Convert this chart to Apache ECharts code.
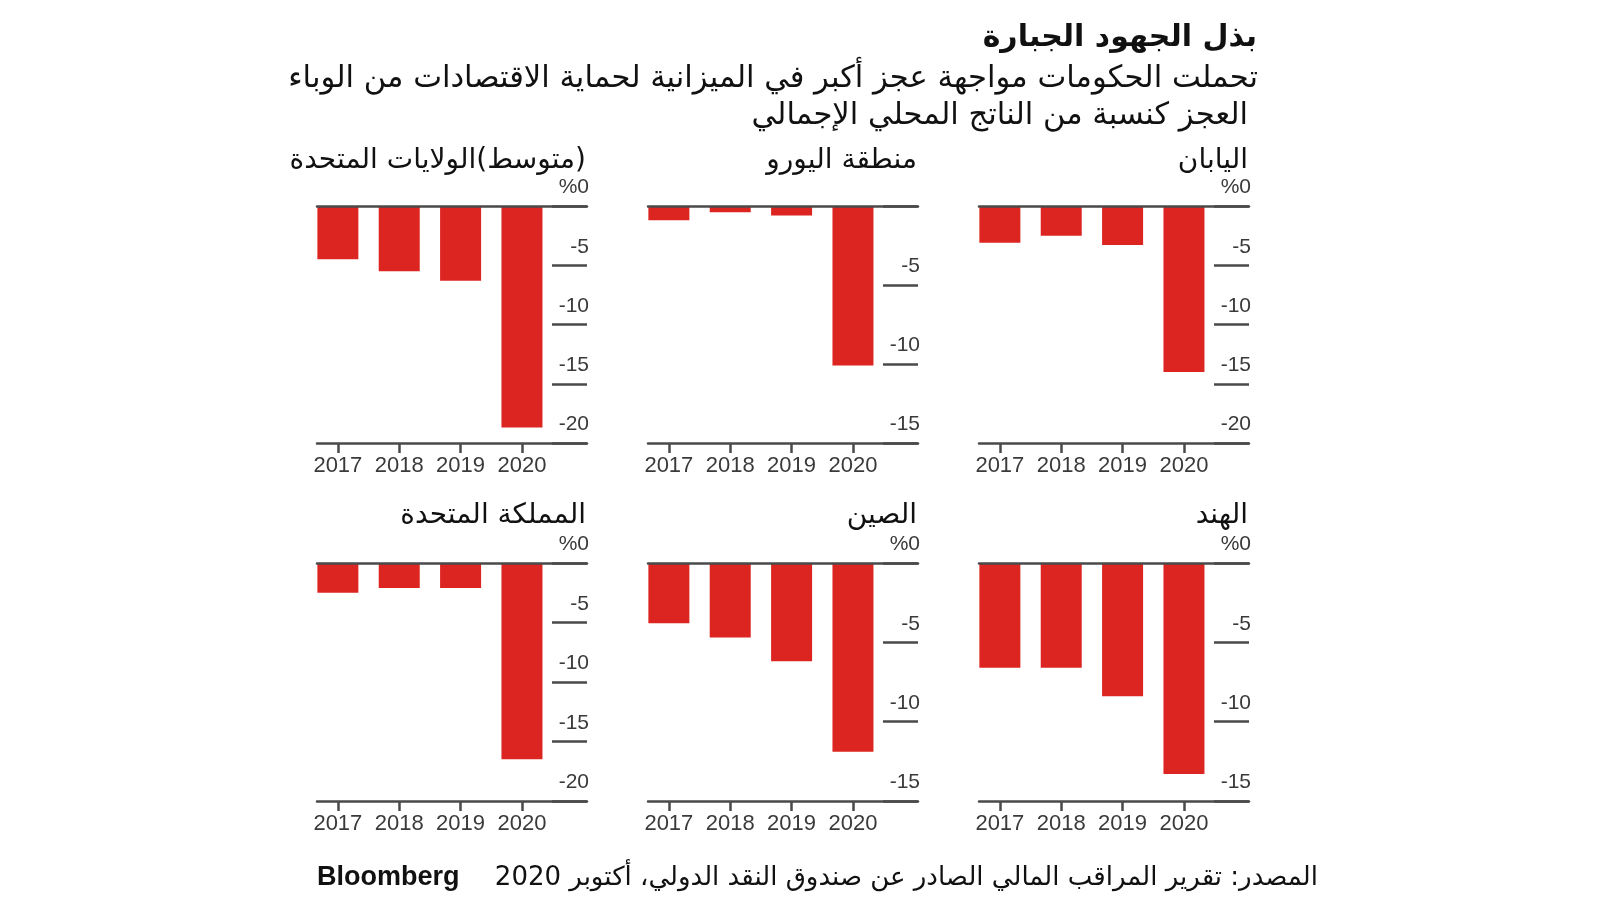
<!DOCTYPE html>
<html>
<head>
<meta charset="utf-8">
<script src="https://cdn.jsdelivr.net/npm/echarts@6/dist/echarts.min.js"></script>
<style>
html,body{margin:0;padding:0;background:#fff;}
#c{width:1600px;height:900px;}
</style>
</head>
<body>
<div id="c"></div>
<script>
// ---- data ----
var years = ['2017', '2018', '2019', '2020'];
var usValues = [-4.5, -5.5, -6.3, -18.7];
var eurozoneValues = [-0.9, -0.4, -0.6, -10.1];
var japanValues = [-3.1, -2.5, -3.3, -14.0];
var ukValues = [-2.5, -2.1, -2.1, -16.5];
var chinaValues = [-3.8, -4.7, -6.2, -11.9];
var indiaValues = [-6.6, -6.6, -8.4, -13.3];
var panelNames = ['\u200F(متوسط)الولايات المتحدة', 'منطقة اليورو', 'اليابان', 'المملكة المتحدة', 'الصين', 'الهند'];
var panelMins = [-20, -15, -20, -20, -15, -15];
var panelShowZero = [true, false, true, true, true, true];
var titleText = 'بذل الجهود الجبارة';
var subtitle1 = 'تحملت الحكومات مواجهة عجز أكبر في الميزانية لحماية الاقتصادات من الوباء';
var subtitle2 = 'العجز كنسبة من الناتج المحلي الإجمالي';
var sourceText = 'المصدر: تقرير المراقب المالي الصادر عن صندوق النقد الدولي، أكتوبر 2020';
var brandText = 'Bloomberg';
var panelValues = [usValues, eurozoneValues, japanValues, ukValues, chinaValues, indiaValues];

// ---- layout ----
var AR = "'DejaVu Sans', sans-serif";
var NUM = "'Liberation Sans', Arial, sans-serif";
var lineColor = '#4a4a4a';
var textColor = '#3a3a3a';
var barColor = '#dc2520';
var colLeft = [317, 648, 979];
var panelW = 270;
var rowTop = [206, 563];
var rowBottomY = [443, 801];

var grids = [], xAxes = [], yAxes = [], series = [];
var titles = [
  {text: titleText, right: 1600 - 1262, top: 15, textStyle: {fontFamily: AR, fontSize: 30, fontWeight: 'bold', color: '#111', lineHeight: 36}},
  {text: subtitle1, right: 1600 - 1263, top: 56, textStyle: {fontFamily: AR, fontSize: 30.6, fontWeight: 'normal', color: '#111', lineHeight: 36}},
  {text: subtitle2, right: 1600 - 1253, top: 93, textStyle: {fontFamily: AR, fontSize: 30.6, fontWeight: 'normal', color: '#111', lineHeight: 36}},
  {text: sourceText, right: 1600 - 1323, top: 857, textStyle: {fontFamily: AR, fontSize: 26, fontWeight: 'normal', color: '#111', lineHeight: 32}},
  {text: brandText, left: 312, top: 858, textStyle: {fontFamily: NUM, fontSize: 27, fontWeight: 'bold', color: '#111', lineHeight: 30}}
];

for (var p = 0; p < 6; p++) {
  var row = Math.floor(p / 3), col = p % 3;
  var L = colLeft[col];
  grids.push({left: L, width: panelW, top: rowTop[row], bottom: 900 - rowBottomY[row], containLabel: false});
  titles.push({text: panelNames[p], right: 1600 - (L + panelW + 4), top: (row === 0 ? 139 : 494),
    textStyle: {fontFamily: AR, fontSize: 28, fontWeight: 'normal', color: '#111', lineHeight: 34}});
  var xb = xAxes.length;
  xAxes.push({
    type: 'value', gridIndex: p, position: 'bottom', min: -0.34, max: 4.06,
    axisLine: {show: true, onZero: false, lineStyle: {color: lineColor, width: 2.5}},
    axisTick: {show: true, customValues: [0, 1, 2, 3], length: 10, lineStyle: {color: lineColor, width: 2.5}},
    axisLabel: {show: true, customValues: [0, 1, 2, 3], margin: 12, fontFamily: NUM, fontSize: 22, color: textColor,
      formatter: function (v) { return years[Math.round(v)]; }},
    splitLine: {show: false}, z: 3
  });
  xAxes.push({
    type: 'value', gridIndex: p, position: 'top', min: -0.34, max: 4.06,
    axisLine: {show: true, onZero: false, lineStyle: {color: lineColor, width: 2.5}},
    axisTick: {show: false}, axisLabel: {show: false}, splitLine: {show: false}, z: 3
  });
  (function (showZero) {
    yAxes.push({
      type: 'value', gridIndex: p, position: 'right', min: panelMins[p], max: 0, interval: 5,
      axisLine: {show: false, onZero: false},
      axisTick: {show: true, inside: true, length: 35, lineStyle: {color: lineColor, width: 2.5}},
      axisLabel: {show: true, inside: true, margin: -2, align: 'right', verticalAlign: 'bottom', padding: [0, 0, 8, 0],
        fontFamily: NUM, fontSize: 21, color: textColor,
        formatter: function (v) { return v === 0 ? (showZero ? '%0' : '') : String(v); }},
      splitLine: {show: false}, z: 3
    });
  })(panelShowZero[p]);
  series.push({
    type: 'bar', xAxisIndex: xb, yAxisIndex: p, barWidth: 41,
    itemStyle: {color: barColor},
    data: panelValues[p].map(function (v, i) { return [i, v]; }),
    silent: true
  });
}

var chart = echarts.init(document.getElementById('c'), null, {renderer: 'canvas'});
chart.setOption({
  backgroundColor: '#fff',
  animation: false,
  title: titles,
  grid: grids,
  xAxis: xAxes,
  yAxis: yAxes,
  series: series
});
</script>
</body>
</html>
